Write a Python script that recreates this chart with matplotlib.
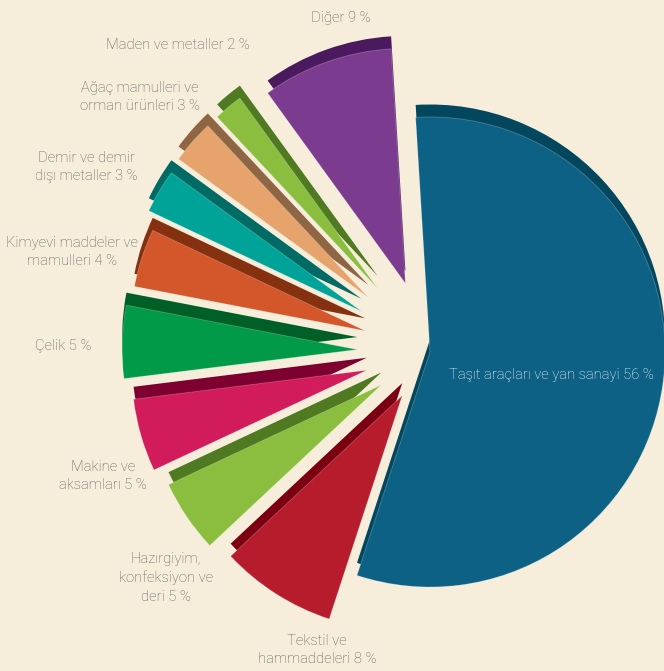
import matplotlib
matplotlib.use("Agg")
import matplotlib.pyplot as plt
from matplotlib import font_manager

# ---- data ----
categories = [
    "Taşıt araçları ve yan sanayi",
    "Tekstil ve\nhammaddeleri",
    "Hazırgiyim,\nkonfeksiyon ve\nderi",
    "Makine ve\naksamları",
    "Çelik",
    "Kimyevi maddeler ve\nmamulleri",
    "Demir ve demir\ndışı metaller",
    "Ağaç mamulleri ve\norman ürünleri",
    "Maden ve metaller",
    "Diğer",
]
shares = [56, 8, 5, 5, 5, 4, 3, 3, 2, 9]

# ---- style ----
face_colors = ["#0d6184", "#b71c2c", "#8bbe3e", "#d11b5b", "#009a48",
               "#d4562b", "#00a398", "#e6a46c", "#8bbe3e", "#7b3c8f"]
side_colors = ["#03475f", "#7a0012", "#4f7a21", "#7e0031", "#005f27",
               "#85300f", "#006b64", "#8e6643", "#4f7a21", "#4b195d"]
explode_frac = [0.0, 0.22, 0.25, 0.28, 0.31, 0.29, 0.34, 0.35, 0.35, 0.31]
bg = "#f6eedb"

available = {f.name for f in font_manager.fontManager.ttflist}
family = "DejaVu Sans"
for cand in ["Liberation Sans Narrow", "Roboto", "Open Sans"]:
    if cand in available:
        family = cand
        break
plt.rcParams["font.family"] = [family, "DejaVu Sans"]

W, H = 664, 671
fig = plt.figure(figsize=(W / 100, H / 100), dpi=100, facecolor=bg)
ax = fig.add_axes([0, 0, 1, 1])
ax.set_facecolor(bg)

R = 235
cx, cy = 430, H - 352
depth = 12.5
explode = [e * R for e in explode_frac]

# extruded side (shifted upwards)
ax.pie(shares, colors=side_colors, startangle=93.5, counterclock=False,
       radius=R, center=(cx, cy + depth), explode=explode,
       wedgeprops=dict(linewidth=0))
# top face
ax.pie(shares, colors=face_colors, startangle=93.5, counterclock=False,
       radius=R, center=(cx, cy), explode=explode,
       wedgeprops=dict(linewidth=0.6, edgecolor=(1, 1, 1, 0.25)))

ax.set_aspect("auto")
ax.set_xlim(0, W)
ax.set_ylim(0, H)
ax.axis("off")

label_pos = [
    (551, 375), (317, 650), (166, 578), (103, 476), (63, 346),
    (72, 252), (86, 167), (140, 97), (178, 45), (341, 18),
]
txt_color = "#5c5c5c"
for i, (name, val, (x, y)) in enumerate(zip(categories, shares, label_pos)):
    s = f"{name} {val} %"
    ax.text(x, H - y, s, ha="center", va="center", fontsize=10.6,
            fontweight="light",
            color="white" if i == 0 else txt_color, linespacing=1.42,
            multialignment="center")

fig.savefig("out.png", dpi=100, facecolor=bg)
